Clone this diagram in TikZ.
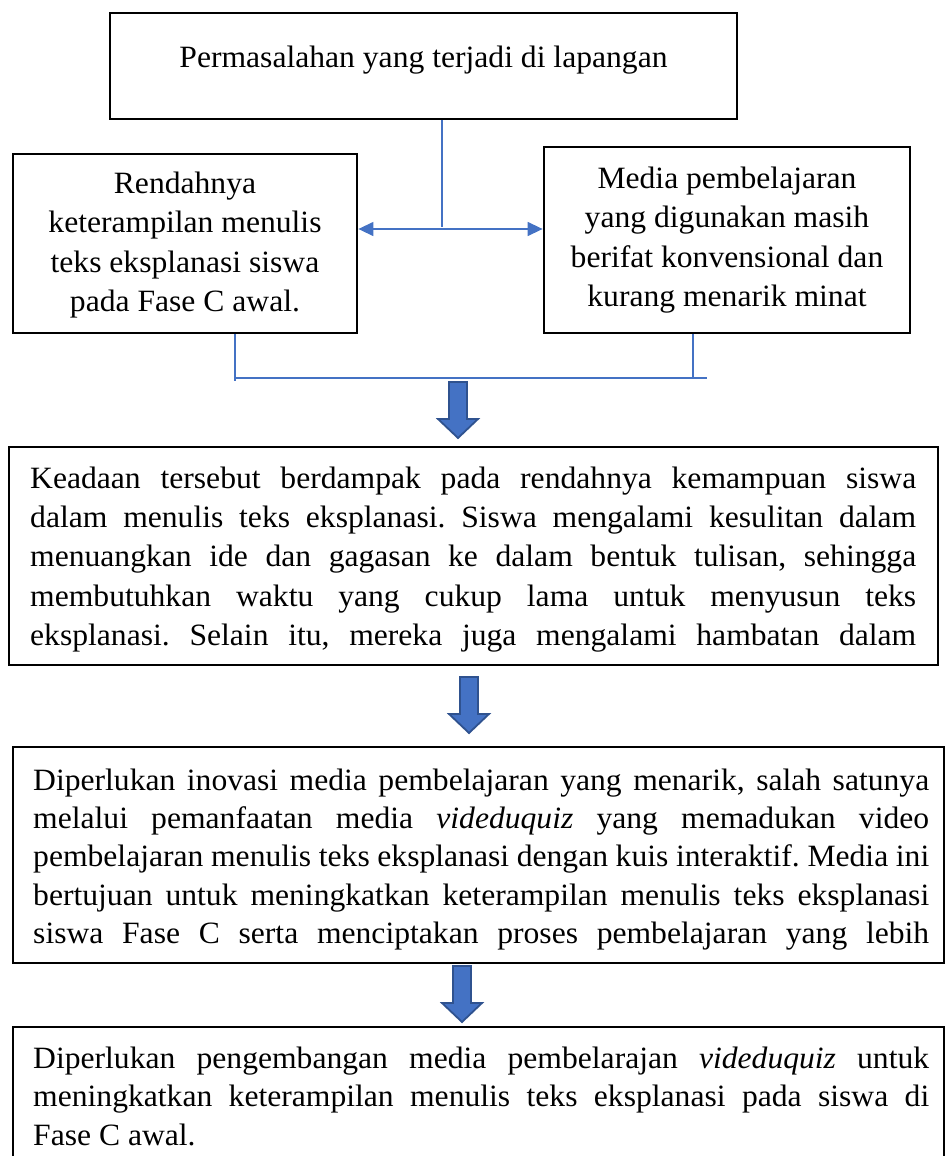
\documentclass[tikz,border=0pt]{standalone}
\usepackage{fontspec}
\setmainfont{Liberation Serif}[FakeStretch=1.02]
\usetikzlibrary{arrows.meta}
\definecolor{ablue}{HTML}{4472C4}
\definecolor{aborder}{HTML}{2F528F}
\frenchspacing
\tikzset{
  box/.style={draw=black, line width=2.8pt, rectangle, inner sep=0pt},
  ln/.style={anchor=base west, inner sep=0pt},
  cln/.style={anchor=base, inner sep=0pt},
  conn/.style={draw=ablue, line width=1.4pt},
  blkarrow/.pic={\draw[fill=ablue, draw=aborder, line width=1.8pt, line join=miter]
     (-9,0) -- (-9,37) -- (-20,37) -- (0,56) -- (20,37) -- (9,37) -- (9,0) -- cycle;}
}
\newcommand\jl[1]{\makebox[886pt][s]{#1}}
\newcommand\jm[1]{\makebox[896pt][s]{#1}}
\begin{document}
\begin{tikzpicture}[x=1pt, y=-1pt, font=\fontsize{31}{39}\selectfont]
\useasboundingbox (0,0) rectangle (946,1156);
% boxes
\node[box, minimum width=627pt, minimum height=106pt] (top) at (423.5,66) {};
\node[box, minimum width=344pt, minimum height=179pt] (left) at (185,243.5) {};
\node[box, minimum width=366pt, minimum height=186pt] (right) at (727,240) {};
\node[box, minimum width=929pt, minimum height=218pt] (b3) at (473.5,556) {};
\node[box, minimum width=931pt, minimum height=216pt] (b4) at (478.5,855) {};
\node[box, minimum width=931pt, minimum height=160pt] (b5) at (478.5,1107) {};
% texts
\node[cln] (ttop) at (423.5,67) {Permasalahan yang terjadi di lapangan};
\node[cln] (tl1) at (185,193) {Rendahnya};
\node[cln] (tl2) at (185,232.5) {keterampilan menulis};
\node[cln] (tl3) at (185,272) {teks eksplanasi siswa};
\node[cln] (tl4) at (185,311.5) {pada Fase C awal.};
\node[cln] (tr1) at (727,188) {Media pembelajaran};
\node[cln] (tr2) at (727,227.5) {yang digunakan masih};
\node[cln] (tr3) at (727,267) {berifat konvensional dan};
\node[cln] (tr4) at (727,306.5) {kurang menarik minat};
\node[ln] (t31) at (30,488) {\jl{Keadaan tersebut berdampak pada rendahnya kemampuan siswa}};
\node[ln] (t32) at (30,527.3) {\jl{dalam menulis teks eksplanasi. Siswa mengalami kesulitan dalam}};
\node[ln] (t33) at (30,566.6) {\jl{menuangkan ide dan gagasan ke dalam bentuk tulisan, sehingga}};
\node[ln] (t34) at (30,606) {\jl{membutuhkan waktu yang cukup lama untuk menyusun teks}};
\node[ln] (t35) at (30,645) {\jl{eksplanasi. Selain itu, mereka juga mengalami hambatan dalam}};
\node[ln] (t41) at (33,790) {\jm{Diperlukan inovasi media pembelajaran yang menarik, salah satunya}};
\node[ln] (t42) at (33,828.3) {\jm{melalui pemanfaatan media \textit{videduquiz} yang memadukan video}};
\node[ln] (t43) at (33,866.6) {\jm{pembelajaran menulis teks eksplanasi dengan kuis interaktif. Media ini}};
\node[ln] (t44) at (33,905) {\jm{bertujuan untuk meningkatkan keterampilan menulis teks eksplanasi}};
\node[ln] (t45) at (33,943) {\jm{siswa Fase C serta menciptakan proses pembelajaran yang lebih}};
\node[ln] (t51) at (33,1068) {\jm{Diperlukan pengembangan media pembelarajan \textit{videduquiz} untuk}};
\node[ln] (t52) at (33,1106.5) {\jm{meningkatkan keterampilan menulis teks eksplanasi pada siswa di}};
\node[ln] (t53) at (33,1145) {Fase C awal.};
% connectors
\coordinate (jt) at (442,227);
\coordinate (ha) at (0,229);
\coordinate (bl) at (235,378);
\coordinate (br) at (693,378);
\coordinate (be) at (707,378);
\draw[conn] (top.south -| jt) -- (jt);
\draw[conn, {Triangle[length=15pt,width=14pt]}-{Triangle[length=15pt,width=14pt]}] (left.east |- ha) -- (right.west |- ha);
\draw[conn] (left.south -| bl) -- ([yshift=-3pt]bl);
\draw[conn] (bl) -- (be);
\draw[conn] (right.south -| br) -- (br);
% block arrows
\pic at (458,382) {blkarrow};
\pic at (469,677) {blkarrow};
\pic at (462,966) {blkarrow};
\end{tikzpicture}
\end{document}
